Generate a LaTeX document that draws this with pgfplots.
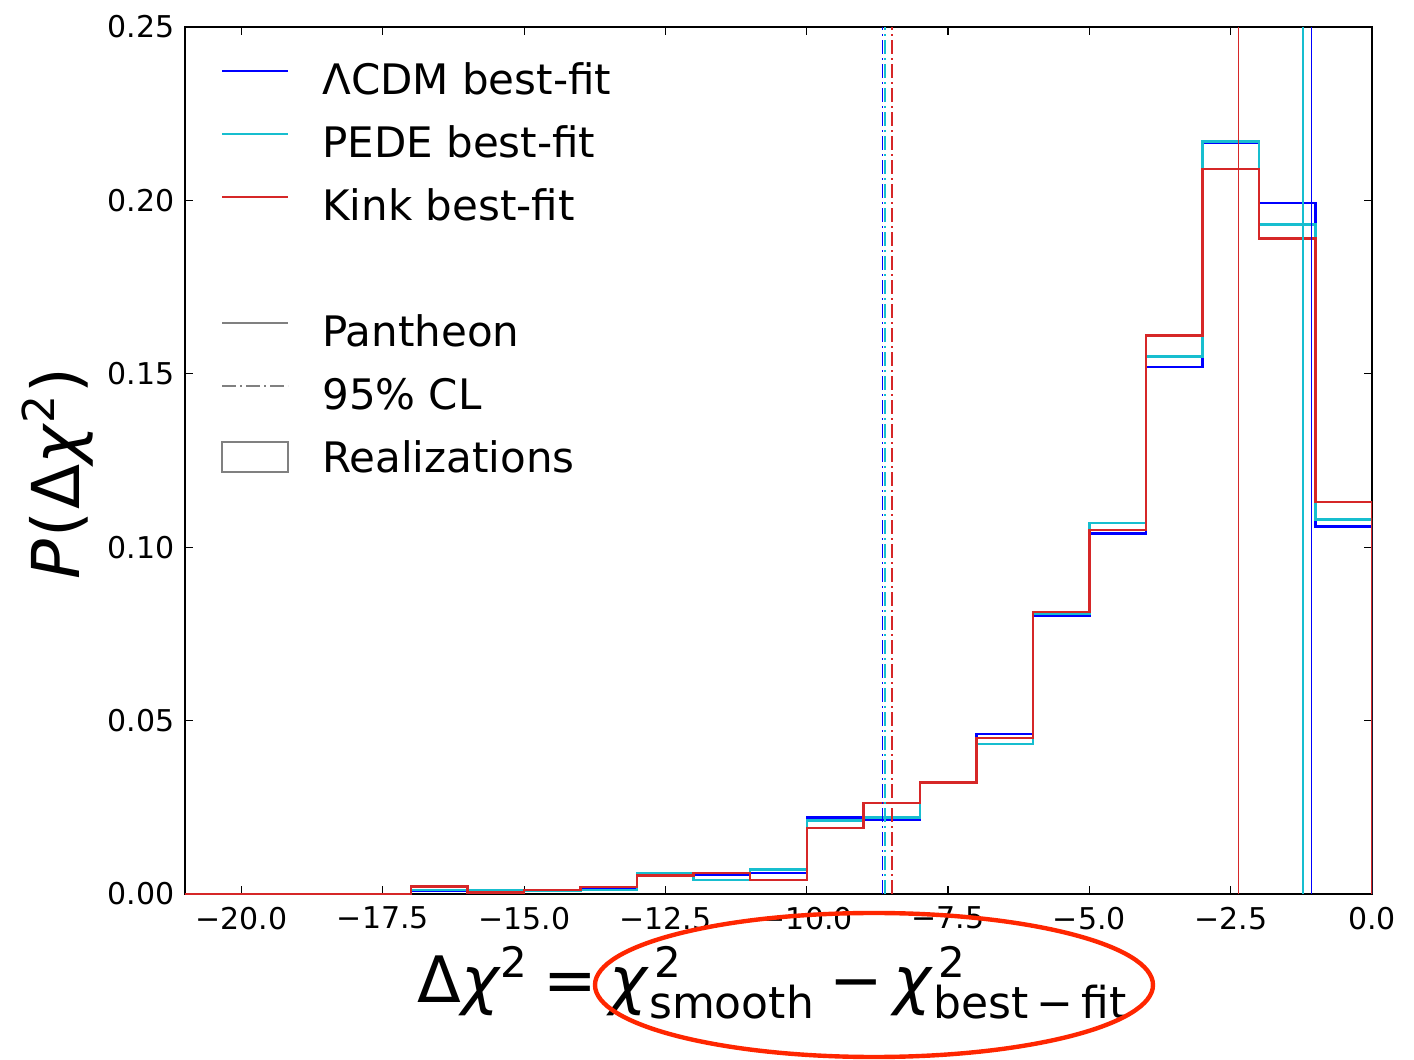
\documentclass[border=0pt]{standalone}
\usepackage{fontspec}
\setmainfont{DejaVu Sans}
\usepackage{pgfplots}
\usepackage{pgfplotstable}
\pgfplotsset{compat=1.18}
\definecolor{mblue}{RGB}{0,0,255}
\definecolor{tcyan}{RGB}{23,190,207}
\definecolor{tred}{RGB}{214,39,40}
\definecolor{mgray}{RGB}{128,128,128}
\definecolor{ellc}{RGB}{255,38,0}
\pgfplotsset{
  lineleg/.style={legend image code/.code={\draw[##1] (0pt,6.7pt) -- (33pt,6.7pt);}},
  boxleg/.style={legend image code/.code={\path[draw=none,fill=none] (0pt,6.05pt) rectangle (33pt,7.35pt);\draw[##1,overlay] (0pt,-4.8pt) rectangle (33pt,10.2pt);}},
}
\newcommand{\sups}[1]{\raisebox{12.5pt}{\fontsize{21}{21}\selectfont #1}}
\newcommand{\subs}[1]{\raisebox{-8pt}{\fontsize{22}{22}\selectfont #1}}
\pgfplotstableread{
x b c r
-21 0 0 0
-20 0 0 0
-19 0 0 0
-18 0 0 0
-17 0.0010 0.0012 0.0021
-16 0.0008 0.0010 0.0005
-15 0.0010 0.0010 0.0011
-14 0.0015 0.0012 0.0020
-13 0.0055 0.0060 0.0054
-12 0.0055 0.0040 0.0060
-11 0.0061 0.0070 0.0041
-10 0.0220 0.0212 0.0190
-9 0.0213 0.0220 0.0262
-8 0.0320 0.0320 0.0321
-7 0.0461 0.0433 0.0450
-6 0.0802 0.0808 0.0813
-5 0.1040 0.1070 0.1050
-4 0.1520 0.1550 0.1610
-3 0.2165 0.2170 0.2090
-2 0.1992 0.1930 0.1890
-1 0.1060 0.1080 0.1130
0 0.1060 0.1080 0.1130
0 0 0 0
}\hist
\begin{document}
\begin{tikzpicture}
\path[use as bounding box] (-92.5pt,-83pt) rectangle (614.5pt,447pt);
\begin{axis}[
  name=ax, at={(0,0)}, anchor=south west,
  scale only axis, width=593.5pt, height=433.5pt,
  xmin=-21, xmax=0, ymin=0, ymax=0.25,
  xtick={-20,-17.5,-15,-12.5,-10,-7.5,-5,-2.5,0},
  xticklabels={−20.0,−17.5,−15.0,−12.5,−10.0,−7.5,−5.0,−2.5,0.0},
  ytick={0,0.05,0.1,0.15,0.2,0.25},
  yticklabels={0.00,0.05,0.10,0.15,0.20,0.25},
  tick align=inside, tick pos=both, major tick length=4pt,
  axis line style={line width=1.1pt},
  every tick/.style={black, line width=0.6pt},
  tick label style={font=\fontsize{15}{18}\selectfont},
  xticklabel style={yshift=-3pt},
  yticklabel style={xshift=-1.7pt},
  every axis x label/.style={at={(axis description cs:0.4944,0)}, anchor=base, yshift=-54pt},
  every axis y label/.style={at={(axis description cs:-0.107,0.485)}, rotate=90, anchor=center},
  xlabel={\fontsize{32}{36}\selectfont Δ\textit{χ}\sups{2}\hspace{8pt}=\hspace{6pt}\textit{χ}\rlap{\hspace{2.5pt}\sups{2}}\subs{smooth}\hspace{8pt}−\hspace{5pt}\textit{χ}\rlap{\hspace{2.5pt}\sups{2}}\subs{best\hspace{4pt}−\hspace{4pt}fit}},
  ylabel={\fontsize{33}{37}\selectfont\textit{P}\hspace{1pt}(\hspace{1pt}Δ\textit{χ}\raisebox{12.5pt}{\fontsize{22}{22}\selectfont 2}\hspace{1pt})},
  legend style={at={(axis description cs:0.0301,0.9562)}, anchor=north west,
    draw=none, fill=none, inner sep=0pt, outer sep=0pt,
    font=\fontsize{21}{25}\selectfont,
    nodes={inner sep=0pt, text height=15pt, text depth=4.25pt},
    row sep=12.25pt, column sep=16.5pt},
  legend cell align=left,
]
\addplot[const plot mark left, mblue, line width=1.25pt, forget plot] table[x=x,y=b] {\hist};
\addplot[const plot mark left, tcyan, line width=1.25pt, forget plot] table[x=x,y=c] {\hist};
\addplot[const plot mark left, tred, line width=1.25pt, forget plot] table[x=x,y=r] {\hist};
\addplot[mblue, line width=0.8pt, forget plot] coordinates {(-1.07,0) (-1.07,0.25)};
\addplot[tcyan, line width=0.8pt, forget plot] coordinates {(-1.225,0) (-1.225,0.25)};
\addplot[tred, line width=0.8pt, forget plot] coordinates {(-2.36,0) (-2.36,0.25)};
\addplot[mblue, line width=0.8pt, dash pattern=on 7pt off 2pt on 1pt off 2pt, forget plot] coordinates {(-8.66,0) (-8.66,0.25)};
\addplot[tcyan, line width=0.8pt, dash pattern=on 7pt off 2pt on 1pt off 2pt, forget plot] coordinates {(-8.62,0) (-8.62,0.25)};
\addplot[tred, line width=0.8pt, dash pattern=on 7pt off 2pt on 1pt off 2pt, forget plot] coordinates {(-8.49,0) (-8.49,0.25)};
\addlegendimage{mblue, line width=1.3pt, lineleg}
\addlegendentry{ΛCDM best-fit}
\addlegendimage{tcyan, line width=1.3pt, lineleg}
\addlegendentry{PEDE best-fit}
\addlegendimage{tred, line width=1.3pt, lineleg}
\addlegendentry{Kink best-fit}
\addlegendimage{empty legend}
\addlegendentry{}
\addlegendimage{mgray, line width=1.3pt, lineleg}
\addlegendentry{Pantheon}
\addlegendimage{mgray, line width=1.3pt, dash pattern=on 7pt off 2pt on 1pt off 2pt, lineleg}
\addlegendentry{95\% CL}
\addlegendimage{mgray, line width=1.3pt, fill=white, boxleg}
\addlegendentry{Realizations}
\end{axis}
\draw[ellc, line width=2.2pt] (344.5pt,-45.5pt) ellipse [x radius=139.5pt, y radius=36pt];
\end{tikzpicture}
\end{document}
